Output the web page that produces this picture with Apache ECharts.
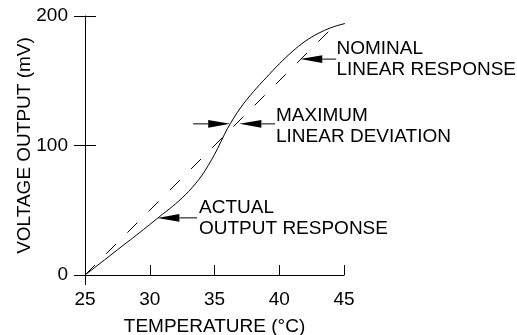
<!DOCTYPE html>
<html>
<head>
<meta charset="utf-8">
<script src="https://cdn.jsdelivr.net/npm/echarts@6/dist/echarts.min.js"></script>
<style>
html,body{margin:0;padding:0;background:#fff;}
#c{width:517px;height:335px;}
</style>
</head>
<body>
<div id="c"></div>
<script>
// Data
var xTicks = [25, 30, 35, 40, 45];
var yTicks = [0, 100, 200];
var actualT = [25, 26, 27, 28, 29, 30, 31, 32, 33, 34, 35, 36, 37, 38, 39, 40, 41, 42, 43, 44, 45, 45.5];
var actualV = [0, 7.7, 15.5, 23.3, 31, 39, 47, 55, 64.5, 76.5, 93, 113, 129, 141.5, 152.5, 163, 172.5, 180.5, 186.5, 191, 194, 194.8];
var nominalT = [25, 44.3];
var nominalV = [0, 193];
// annotation arrows: tip (T, V) and tail T
var arrowTipsT = [30.59, 41.62, 36.21, 36.92];
var arrowTipsV = [44.1, 166.7, 116.7, 116.7];
var arrowTailsT = [33.66, 44.4, 33.35, 39.68];
var labelTexts = ['ACTUAL\nOUTPUT RESPONSE', 'NOMINAL\nLINEAR RESPONSE', 'MAXIMUM\nLINEAR DEVIATION'];

var FONT = "'Liberation Sans', Arial, Helvetica, sans-serif";
var FS = 19;
var chart = echarts.init(document.getElementById('c'), null, {renderer: 'canvas'});

function pairs(a, b) { return a.map(function (v, i) { return [v, b[i]]; }); }

var axisLine = {show: true, lineStyle: {color: '#000', width: 1}};
var option = {
  animation: false,
  backgroundColor: '#fff',
  grid: {left: 85, right: 173, top: 16, bottom: 60, containLabel: false, outerBoundsMode: 'none'},
  xAxis: [{
    type: 'value', min: xTicks[0], max: xTicks[xTicks.length - 1], interval: 5,
    axisLine: axisLine,
    axisTick: {show: true, inside: true, length: 10, lineStyle: {color: '#000'}},
    axisLabel: {color: '#000', fontSize: FS, fontFamily: FONT, margin: 15},
    splitLine: {show: false},
    name: 'TEMPERATURE (°C)', nameLocation: 'middle', nameGap: 42, nameMoveOverlap: false,
    nameTextStyle: {color: '#000', fontSize: FS, fontFamily: FONT}
  }, {
    type: 'value', position: 'bottom', min: xTicks[0], max: xTicks[xTicks.length - 1], interval: 5,
    axisLine: {show: false},
    axisTick: {show: true, inside: false, length: 10, customValues: [xTicks[0]], lineStyle: {color: '#000'}},
    axisLabel: {show: false},
    splitLine: {show: false}
  }],
  yAxis: [{
    type: 'value', position: 'left', min: yTicks[0], max: yTicks[yTicks.length - 1], interval: 100,
    axisLine: axisLine,
    axisTick: {show: true, inside: false, length: 11, lineStyle: {color: '#000'}},
    axisLabel: {color: '#000', fontSize: FS, fontFamily: FONT, margin: 17},
    splitLine: {show: false},
    name: 'VOLTAGE OUTPUT (mV)', nameLocation: 'middle', nameGap: 51, nameMoveOverlap: false,
    nameTextStyle: {color: '#000', fontSize: FS, fontFamily: FONT}
  }, {
    type: 'value', position: 'left', offset: 0, min: yTicks[0], max: yTicks[yTicks.length - 1], interval: 100,
    axisLine: {show: false},
    axisTick: {show: true, inside: true, length: 11, lineStyle: {color: '#000'}},
    axisLabel: {show: false},
    splitLine: {show: false}
  }],
  series: [{
    type: 'line', xAxisIndex: 0, yAxisIndex: 0,
    data: pairs(nominalT, nominalV),
    showSymbol: false, symbol: 'none', clip: false,
    lineStyle: {color: '#000', width: 1, type: [14, 16]}
  }, {
    type: 'line', xAxisIndex: 0, yAxisIndex: 0,
    data: pairs(actualT, actualV),
    smooth: 0.3, showSymbol: false, symbol: 'none', clip: false,
    lineStyle: {color: '#000', width: 1}
  }]
};
chart.setOption(option);

function px(t, v) { return chart.convertToPixel({xAxisIndex: 0, yAxisIndex: 0}, [t, v]); }
var g = [];
for (var i = 0; i < arrowTipsT.length; i++) {
  var tip = px(arrowTipsT[i], arrowTipsV[i]);
  var tail = px(arrowTailsT[i], arrowTipsV[i]);
  var dir = tail[0] > tip[0] ? 1 : -1;
  var hl = 22, hw = 3.8;
  var base = tip[0] + dir * hl;
  g.push({type: 'polygon', silent: true, shape: {points: [[tip[0], tip[1]], [base, tip[1] - hw], [base, tip[1] + hw]]}, style: {fill: '#000'}});
  g.push({type: 'line', silent: true, shape: {x1: base, y1: tip[1], x2: tail[0], y2: tip[1]}, style: {stroke: '#000', lineWidth: 1}});
}
var labelPos = [[199, 197], [336.5, 38], [276, 105]];
for (var j = 0; j < labelTexts.length; j++) {
  g.push({type: 'text', silent: true, left: labelPos[j][0], top: labelPos[j][1],
    style: {text: labelTexts[j], fill: '#000', fontSize: FS, fontFamily: FONT, lineHeight: 21}});
}
chart.setOption({graphic: g});
</script>
</body>
</html>
